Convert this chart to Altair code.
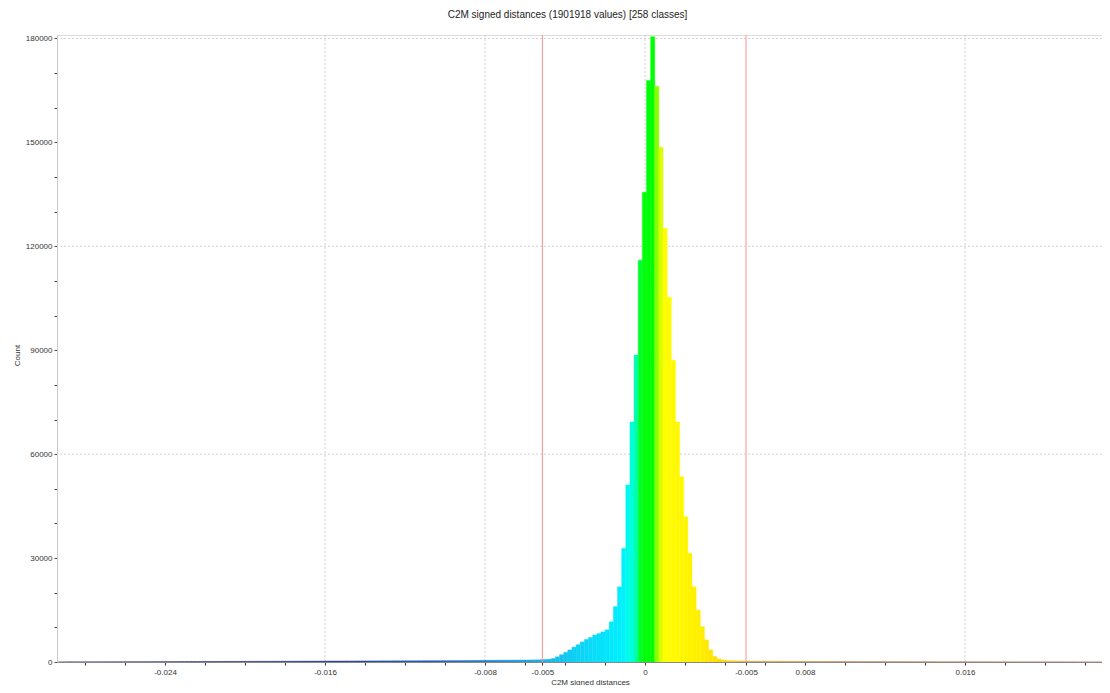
import altair as alt
import pandas as pd

# ---------------- texts ----------------
TITLE = "C2M signed distances (1901918 values)  [258 classes]"
X_TITLE = "C2M signed distances"
Y_TITLE = "Count"

# ---------------- histogram definition ----------------
X_MIN = -0.02932          # lower bound of first class
BIN_WIDTH = 0.000207      # class width
N_CLASSES = 258

# counts per class
left_tail = [
    40, 45, 50, 55, 55, 60, 60, 65, 70, 70, 75, 75, 80, 80, 85, 85, 90, 90, 95, 95,
    100, 100, 105, 110, 110, 115, 120, 120, 125, 130, 130, 135, 140, 140, 145, 150, 150, 155, 160, 160,
    165, 170, 175, 180, 180, 185, 190, 195, 200, 205, 210, 210, 215, 220, 225, 230, 235, 240, 245, 250,
    255, 260, 265, 270, 275, 280, 285, 290, 295, 300, 300, 305, 310, 310, 315, 320, 320, 325, 330, 330,
    335, 340, 340, 345, 350, 350, 355, 360, 365, 370, 375, 380, 385, 390, 395, 400, 410, 420, 430, 440,
    450, 460, 470, 480, 490, 500, 510, 520, 530, 540, 550, 560, 570, 580, 600, 620,
]
core = [
    650, 700, 800, 1000, 1500, 2100, 2800, 3500, 4300, 5000,
    5800, 6500, 7100, 7800, 8200, 8700, 9300, 11600, 16000, 21700,
    32800, 51100, 69300, 88600, 116000, 135600, 167900, 180500, 166200, 148600,
    125200, 105300, 87100, 69300, 53500, 41900, 31400, 21700, 15000, 10200,
    6400, 3500, 1600, 900, 550, 420, 360, 320, 290, 260,
]
right_tail = [
    240, 230, 220, 215, 210, 205, 200, 195, 190, 185,
    180, 175, 170, 168, 165, 160, 158, 155, 150, 148,
    145, 142, 140, 138, 135, 132, 130, 128, 125, 122,
    120, 118, 115, 112, 110, 108, 105, 102, 100, 98,
    95, 92, 90, 88, 85, 82, 80, 78, 75, 72,
    70, 68, 66, 64, 62, 60, 58, 56, 54, 52,
    50, 48, 46, 45, 44, 42, 40, 39, 38, 36,
    35, 34, 32, 31, 30, 29, 28, 27, 26, 25,
    24, 23, 22, 21, 20, 20, 19, 18, 18, 17,
    16, 15,
]
counts = left_tail + core + right_tail

# threshold (red) lines
thresholds = [-0.00513, 0.00505]

# grid positions
h_grid = [60000, 120000, 180000]
v_grid = [-0.016, -0.008, 0.0, 0.016]

# x tick labels as printed on the picture
x_label_values = [-0.024, -0.016, -0.008, -0.00513, 0.0, 0.00505, 0.008, 0.016]
x_label_texts = ["-0.024", "-0.016", "-0.008", "-0.005", "0", "-0.005", "0.008", "0.016"]

# colour scale of the scalar field
color_stops = [-0.0294, -0.022, -0.016, -0.011, -0.0075, -0.005, -0.0035, -0.0012, -0.0007,
               -0.0004, -0.0002, 0.0004, 0.0006, 0.0009, 0.0028, 0.004, 0.0055, 0.01, 0.024]
color_range = ["#5a5a80", "#33377f", "#2a3f9a", "#2458b8", "#1f86d0", "#18b4e8", "#10d0f4",
               "#00eeff", "#00ffe8", "#00ffa0", "#00ff10", "#00ff00", "#90ff00", "#ffff00",
               "#ffee00", "#ffd800", "#e0a838", "#c88c50", "#b87070"]

# ---------------- build table ----------------
starts = [X_MIN + i * BIN_WIDTH for i in range(N_CLASSES)]
hist = pd.DataFrame({
    "start": starts,
    "end": [s + BIN_WIDTH for s in starts],
    "mid": [s + BIN_WIDTH / 2 for s in starts],
    "count": counts,
})

X_DOMAIN = [-0.0294, 0.02285]
Y_DOMAIN = [0, 181000]
FONT = "Liberation Sans Narrow, Liberation Sans, Arial, sans-serif"

x_ticks = sorted(set([round(k * 0.002, 3) for k in range(-14, 12)] + thresholds))
label_expr = " : ".join(
    f"datum.value == {v} ? '{t}'" for v, t in zip(x_label_values, x_label_texts)
) + " : ''"

x_scale = alt.Scale(domain=X_DOMAIN, nice=False, zero=False)
y_scale = alt.Scale(domain=Y_DOMAIN, nice=False)
col_scale = alt.Scale(domain=color_stops, range=color_range, interpolate="rgb")

x_axis = alt.Axis(
    values=x_ticks, labelExpr=label_expr, grid=False,
    tickSize=3, tickColor="#333333", domainColor="#888888",
    labelFont=FONT, labelFontSize=8, labelColor="#333333", labelPadding=3,
    labelFlush=False, labelOverlap=False,
    title=X_TITLE, titleFont=FONT, titleFontSize=8, titleFontWeight="normal",
    titleColor="#333333", titleX=533, titleY=20, titleAlign="center",
    titleBaseline="middle",
)
y_axis = alt.Axis(
    values=list(range(0, 190000, 10000)),
    labelExpr="datum.value % 30000 == 0 ? '' + datum.value : ''",
    grid=False, tickSize=3, tickColor="#444444", domainColor="#c8c8c8",
    labelFont=FONT, labelFontSize=8, labelColor="#333333", labelPadding=2,
    labelOverlap=False,
    title=Y_TITLE, titleFont=FONT, titleFontSize=8, titleFontWeight="normal",
    titleColor="#333333", titleX=-40, titleY=320, titleAngle=270,
    titleAlign="center", titleBaseline="middle",
)

hgrid = alt.Chart(pd.DataFrame({"y": h_grid})).mark_rule(
    color="#d4d4d4", strokeDash=[2, 2], strokeWidth=1
).encode(y=alt.Y("y:Q", scale=y_scale, axis=y_axis, title=Y_TITLE))

vgrid = alt.Chart(pd.DataFrame({"x": v_grid})).mark_rule(
    color="#cfcfcf", strokeDash=[2, 2], strokeWidth=1
).encode(x=alt.X("x:Q", scale=x_scale, axis=x_axis, title=X_TITLE))

bars = alt.Chart(hist).mark_rect(clip=True, strokeWidth=0.4).encode(
    x=alt.X("start:Q", scale=x_scale, axis=x_axis, title=X_TITLE),
    x2="end:Q",
    y=alt.Y("count:Q", scale=y_scale, axis=y_axis, title=Y_TITLE),
    y2=alt.datum(0),
    color=alt.Color("mid:Q", scale=col_scale, legend=None),
    stroke=alt.Stroke("mid:Q", scale=col_scale, legend=None),
)

red = alt.Chart(pd.DataFrame({"x": thresholds})).mark_rule(
    color="#ff9090", strokeWidth=1
).encode(x=alt.X("x:Q", scale=x_scale, axis=x_axis, title=X_TITLE))

chart = alt.layer(hgrid, vgrid, bars, red).properties(
    width=1045, height=627,
    autosize="none",
    padding={"left": 49, "top": 27, "right": 0, "bottom": 23},
    title=alt.TitleParams(TITLE, font=FONT, fontSize=10, fontWeight="normal",
                          color="#222222", anchor="middle", dx=-12, offset=14),
).configure_view(stroke=None).configure(background="white")

chart.save("out.html", embed_options={"renderer": "svg", "actions": False})
